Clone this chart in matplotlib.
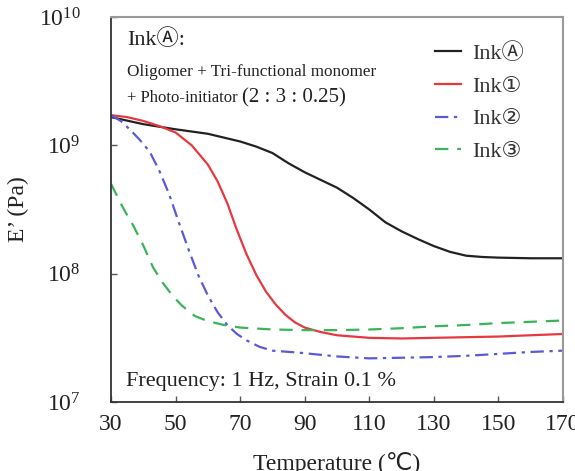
import numpy as np
import matplotlib
matplotlib.use("Agg")
import matplotlib.pyplot as plt
from matplotlib.ticker import FixedLocator, FuncFormatter

plt.rcParams['font.family'] = ['Liberation Serif', 'DejaVu Sans', 'Noto Sans CJK JP']
plt.rcParams['mathtext.fontset'] = 'custom'
plt.rcParams['mathtext.rm'] = 'Liberation Serif'
plt.rcParams['mathtext.it'] = 'Liberation Serif:italic'

# ---- data (log10 of E' in Pa) ----
temp_A = [30, 40, 50, 60, 70, 75, 80, 85, 90, 95, 100, 105, 110, 115, 120, 125, 130, 135, 140, 145, 150, 160, 170]
logE_A = [9.22, 9.165, 9.125, 9.09, 9.03, 8.99, 8.94, 8.86, 8.79, 8.73, 8.67, 8.59, 8.50, 8.40, 8.33, 8.27, 8.215, 8.17, 8.14, 8.13, 8.125, 8.12, 8.12]

temp_1 = [30, 35, 40, 45, 50, 55, 60, 63, 66, 69, 72, 75, 78, 81, 84, 87, 90, 95, 100, 110, 120, 130, 140, 150, 160, 170]
logE_1 = [9.235, 9.22, 9.19, 9.15, 9.10, 9.00, 8.85, 8.72, 8.55, 8.34, 8.15, 7.99, 7.86, 7.76, 7.68, 7.62, 7.58, 7.545, 7.52, 7.50, 7.495, 7.50, 7.505, 7.51, 7.52, 7.53]

temp_2 = [30, 33, 36, 39, 42, 45, 48, 51, 54, 57, 60, 63, 66, 69, 72, 76, 80, 88, 100, 110, 120, 130, 140, 150, 160, 170]
logE_2 = [9.235, 9.19, 9.12, 9.04, 8.95, 8.80, 8.62, 8.40, 8.19, 7.99, 7.83, 7.70, 7.60, 7.53, 7.48, 7.43, 7.40, 7.385, 7.355, 7.34, 7.345, 7.35, 7.36, 7.375, 7.39, 7.40]

temp_3 = [30, 32, 34, 37, 40, 43, 46, 49, 52, 56, 60, 65, 70, 80, 90, 100, 110, 120, 130, 140, 150, 160, 170]
logE_3 = [8.70, 8.60, 8.50, 8.37, 8.22, 8.05, 7.93, 7.83, 7.75, 7.67, 7.63, 7.60, 7.58, 7.565, 7.56, 7.56, 7.565, 7.575, 7.59, 7.60, 7.615, 7.625, 7.635]

labels = ['InkⒶ', 'Ink①', 'Ink②', 'Ink③']
x_ticks = [30, 50, 70, 90, 110, 130, 150, 170]
y_ticks = [1e7, 1e8, 1e9, 1e10]

W, H = 575, 471
fig = plt.figure(figsize=(W / 100, H / 100), dpi=100)
ax = fig.add_axes([111 / W, 1 - 402 / H, (563 - 111) / W, (402 - 17) / H])

ax.plot(temp_A, 10 ** np.array(logE_A), color='#222222', lw=1.6, ls='-', label=labels[0])
ax.plot(temp_1, 10 ** np.array(logE_1), color='#e8383f', lw=1.6, ls='-', label=labels[1])
ax.plot(temp_2, 10 ** np.array(logE_2), color='#5a5ad8', lw=1.6, ls=(0, (6, 2.5, 1.5, 2.5)), label=labels[2])
ax.plot(temp_3, 10 ** np.array(logE_3), color='#3bb35a', lw=1.6, ls=(0, (6, 4)), label=labels[3])

ax.set_yscale('log')
ax.set_xlim(30, 170)
ax.set_ylim(1e7, 1e10)
ax.xaxis.set_major_locator(FixedLocator(x_ticks))
ax.yaxis.set_major_locator(FixedLocator(y_ticks))
ax.yaxis.set_minor_locator(FixedLocator([]))
ax.yaxis.set_major_formatter(FuncFormatter(lambda v, p: r'$\mathregular{10^{%d}}$' % round(np.log10(v))))
ax.tick_params(axis='both', which='major', direction='in', length=4, width=1, color='#555555',
               labelsize=17, labelcolor='#222222')
ax.tick_params(axis='x', pad=9)
ax.tick_params(axis='y', pad=22)

for side in ['left', 'bottom']:
    ax.spines[side].set_color('#333333')
    ax.spines[side].set_linewidth(1.3)
for side in ['top', 'right']:
    ax.spines[side].set_color('#999999')
    ax.spines[side].set_linewidth(1.5)

ax.set_xlabel('Temperature (℃)', fontsize=17, color='#222222', labelpad=12)
ax.set_ylabel('E’ (Pa)', fontsize=17, color='#222222', labelpad=7)

leg = ax.legend(loc='upper right', bbox_to_anchor=((524 - 111) / 452, (402 - 43) / 385),
                frameon=False, fontsize=16, handlelength=1.17, handletextpad=0.5,
                labelspacing=0.55, borderpad=0, borderaxespad=0)
for t in leg.get_texts():
    t.set_color('#333333')

ax.text((127 - 111) / 452, (402 - 40) / 385, 'InkⒶ:', transform=ax.transAxes,
        fontsize=16, va='center', ha='left', color='#222222')
ax.text((127 - 111) / 452, (402 - 72) / 385, 'Oligomer + Tri-functional monomer', transform=ax.transAxes,
        fontsize=12.3, va='center', ha='left', color='#222222')
t1 = ax.text((127 - 111) / 452, (402 - 98) / 385, '+ Photo-initiator ', transform=ax.transAxes,
             fontsize=12, va='center', ha='left', color='#222222')
ax.annotate('(2 : 3 : 0.25)', xy=(1, 0.5), xycoords=t1, fontsize=15, va='center', ha='left', color='#222222')
ax.text((126 - 111) / 452, (402 - 386) / 385, 'Frequency: 1 Hz, Strain 0.1 %', transform=ax.transAxes,
        fontsize=16, va='baseline', ha='left', color='#222222')

fig.savefig('out.png', dpi=100)
